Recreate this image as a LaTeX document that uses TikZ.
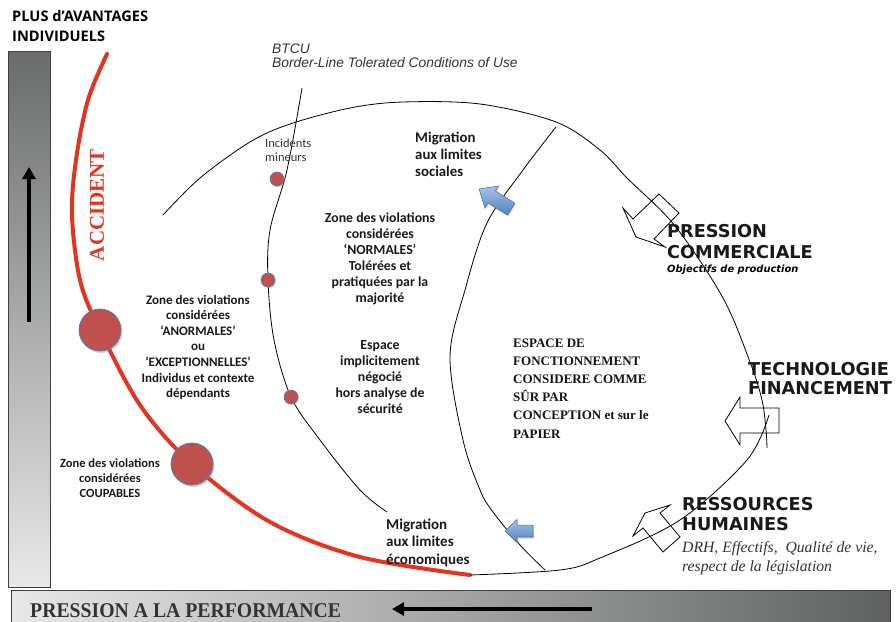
\documentclass[tikz,border=0pt]{standalone}
\usepackage{fontspec}
\setmainfont{Carlito}
\newfontfamily\headfont{Open Sans}
\newfontfamily\armfont{Liberation Sans}
\newfontfamily\timesfont{Liberation Serif}
\newfontfamily\verdfont{DejaVu Sans}
\usetikzlibrary{shadows,arrows.meta}

\definecolor{accred}{HTML}{E2341F}
\definecolor{dotred}{HTML}{C0504D}
\definecolor{dotedge}{HTML}{4F81BD}
\definecolor{barDark}{HTML}{6A6C6C}
\definecolor{barLight}{HTML}{E8E8E8}
\definecolor{bluetop}{HTML}{A9C4EA}
\definecolor{bluebot}{HTML}{4F81BD}
\definecolor{textgray}{HTML}{333333}

\tikzset{
  bigdot/.style={circle, minimum size=42pt, inner sep=0pt, fill=dotred, draw=dotedge, line width=0.8pt,
    drop shadow={shadow xshift=1.5pt, shadow yshift=-2pt, opacity=0.35}},
  smalldot/.style={circle, minimum size=14pt, inner sep=0pt, fill=dotred, draw=dotedge, line width=0.6pt,
    drop shadow={shadow xshift=1pt, shadow yshift=-1pt, opacity=0.3}},
  zonetext/.style={align=center, inner sep=0pt, anchor=base, text=black!90},
  migtext/.style={font=\bfseries\fontsize{14.8}{17.3}\selectfont, align=left, inner sep=0pt, anchor=base west, text=black!90},
  forcetext/.style={align=left, inner sep=0pt, anchor=base west, text=black!90},
  blockarrow/.style={draw=black, line width=0.8pt, line join=miter},
  bluearrow/.style={draw=bluebot!80!black, line width=0.5pt, top color=bluetop, bottom color=bluebot,
    drop shadow={shadow xshift=1pt, shadow yshift=-1.5pt, opacity=0.3}},
  fatarrow/.style={line width=4pt, -{Triangle[length=12pt,width=13pt]}},
  curve/.style={line width=0.8pt, black}
}

\begin{document}
\begin{tikzpicture}[x=1pt,y=-1pt]
\useasboundingbox (0,0) rectangle (896,621);

% vertical axis bar
\shade[top color=barDark, bottom color=barLight] (8,51) rectangle (50,587);
\draw[black!75, line width=1pt] (8,51) rectangle (50,587);
\coordinate (vaxTail) at (29,322);
\coordinate (vaxHead) at (29,167);
\draw[fatarrow] (vaxTail) -- (vaxHead);

% horizontal axis bar
\shade[left color=barLight, right color=barDark!90!black] (11,590) rectangle (890,625);
\draw[black!75, line width=1pt] (11,625) -- (11,590) -- (890,590) -- (890,625);
\coordinate (haxTail) at (592,609);
\coordinate (haxHead) at (392,609);
\draw[fatarrow] (haxTail) -- (haxHead);
\node[font=\timesfont\bfseries\fontsize{21}{21}\selectfont, text=textgray, anchor=base west, inner sep=0pt]
  (perf) at (30,617) {\scalebox{0.94}[1]{PRESSION A LA PERFORMANCE}};

% top-left label (anchored on the baseline of its last line)
\node[font=\headfont\bfseries\fontsize{14.6}{20}\selectfont, align=left, anchor=base west, inner sep=0pt]
  (plus) at (12,41) {PLUS d’AVANTAGES\\INDIVIDUELS};

% accident boundary
\draw[accred, line width=4pt, line cap=round] plot[smooth, tension=0.55] coordinates {
  (107,54) (88,100) (76,160) (72,215) (80,280) (99,328) (140,405) (192,464) (270,522) (360,557) (470,575)};
\node[font=\timesfont\bfseries\fontsize{21}{21}\selectfont, text=accred, rotate=90, inner sep=0pt]
  (accident) at (97,205) {ACCIDENT};

% main operating envelope
\draw[curve] plot[smooth, tension=0.55] coordinates {
  (163,215) (200,178) (250,142) (290,124) (350,108) (403,102) (480,104) (556,122) (600,150) (627,178)
  (675,226) (723,298) (750,362) (762,400) (766,430) (767,448)};
\draw[curve] plot[smooth, tension=0.55] coordinates {
  (470,575) (560,570) (600,558) (680,520) (747,460) (769,415)};

% inner boundary (designed safe space)
\draw[curve] plot[smooth, tension=0.55] coordinates {
  (556,127) (523,170) (487,223) (465,290) (450,357) (463,440) (480,490) (493,512) (520,545) (545,570)};

% BTCU boundary
\draw[curve] plot[smooth, tension=0.55] coordinates {
  (302,88) (287,170) (270,230) (268,280) (274,340) (291,397) (320,440) (360,490) (387,512)};

% violation dots
\node[bigdot] (dotAnorm) at (100,330) {};
\node[bigdot] (dotCoup) at (192,464) {};
\node[smalldot] (dotInc) at (277,179) {};
\node[smalldot] (dotNorm) at (268,280) {};
\node[smalldot] (dotEsp) at (291,397) {};

% migration arrows (drawn pointing along local +x, tip at the origin)
\begin{scope}[shift={(479,189)}, rotate=148]
  \path[bluearrow] (0,0) -- (-15,13) -- (-15,7) -- (-38,7) -- (-38,-7) -- (-15,-7) -- (-15,-13) -- cycle;
\end{scope}
\begin{scope}[shift={(505,531)}, rotate=180]
  \path[bluearrow] (0,0) -- (-12,11.5) -- (-12,6) -- (-28,6) -- (-28,-6) -- (-12,-6) -- (-12,-11.5) -- cycle;
\end{scope}

% external pressure arrows
\draw[blockarrow] (623,208) -- (633,219) -- (659,194) -- (679,213) -- (654,239) -- (665,247) -- (636,237) -- cycle;
\draw[blockarrow] (725,421) -- (740,397) -- (740,408) -- (779,408) -- (779,433) -- (740,433) -- (740,445) -- cycle;
\draw[blockarrow] (645,513) -- (670,505) -- (660,513) -- (680,537) -- (663,552) -- (643,528) -- (633,536) -- cycle;

% labels (anchored on the baseline of their last line)
\node[font=\armfont\itshape\fontsize{13.8}{14}\selectfont, text=textgray, align=left, anchor=base west, inner sep=0pt]
  (btcu) at (272,67) {BTCU\\Border-Line Tolerated Conditions of Use};
\node[font=\fontsize{12.5}{14}\selectfont, text=textgray, align=left, anchor=base west, inner sep=0pt]
  (incid) at (265,161) {Incidents\\mineurs};
\node[migtext] (migSocTxt) at (415,176.6) {Migration\\aux limites\\sociales};
\node[migtext, font=\bfseries\fontsize{15}{17.5}\selectfont] (migEcoTxt) at (386,564) {Migration\\aux limites\\économiques};
\node[zonetext, font=\bfseries\fontsize{13.8}{16}\selectfont] (normal) at (380,302)
  {Zone des violations\\considérées\\‘NORMALES’\\Tolérées et\\pratiquées par la\\majorité};
\node[zonetext, font=\bfseries\fontsize{13.8}{16}\selectfont] (espace) at (380,413)
  {Espace\\implicitement\\négocié\\hors analyse de\\sécurité};
\node[zonetext, font=\bfseries\fontsize{13}{15.6}\selectfont] (anormal) at (198,397.6)
  {Zone des violations\\considérées\\‘ANORMALES’\\ou\\‘EXCEPTIONNELLES’\\Individus et contexte\\dépendants};
\node[zonetext, font=\bfseries\fontsize{12.5}{15}\selectfont] (coupable) at (110,497)
  {Zone des violations\\considérées\\COUPABLES};
\node[font=\timesfont\bfseries\fontsize{13}{18.2}\selectfont, text=black!92, align=left, anchor=base west, inner sep=0pt]
  (safe) at (513,438) {ESPACE DE\\FONCTIONNEMENT\\CONSIDERE COMME\\SÛR PAR\\CONCEPTION et sur le\\PAPIER};
\node[forcetext, font=\verdfont\bfseries\fontsize{17.7}{21}\selectfont] (commerce) at (667,258) {PRESSION\\COMMERCIALE};
\node[font=\verdfont\bfseries\itshape\fontsize{9.9}{11}\selectfont, anchor=base west, inner sep=0pt]
  (objectifs) at (667,272) {Objectifs de production};
\node[forcetext, font=\verdfont\bfseries\fontsize{17.7}{19.5}\selectfont] (techno) at (748,394.5) {TECHNOLOGIE\\FINANCEMENT};
\node[forcetext, font=\verdfont\bfseries\fontsize{17.7}{20}\selectfont] (rh) at (682,530) {RESSOURCES\\HUMAINES};
\node[font=\timesfont\itshape\fontsize{15.7}{19}\selectfont, text=textgray, align=left, anchor=base west, inner sep=0pt]
  (drh) at (682,571) {DRH, Effectifs,\ \ Qualité de vie,\\respect de la législation};
\end{tikzpicture}
\end{document}
